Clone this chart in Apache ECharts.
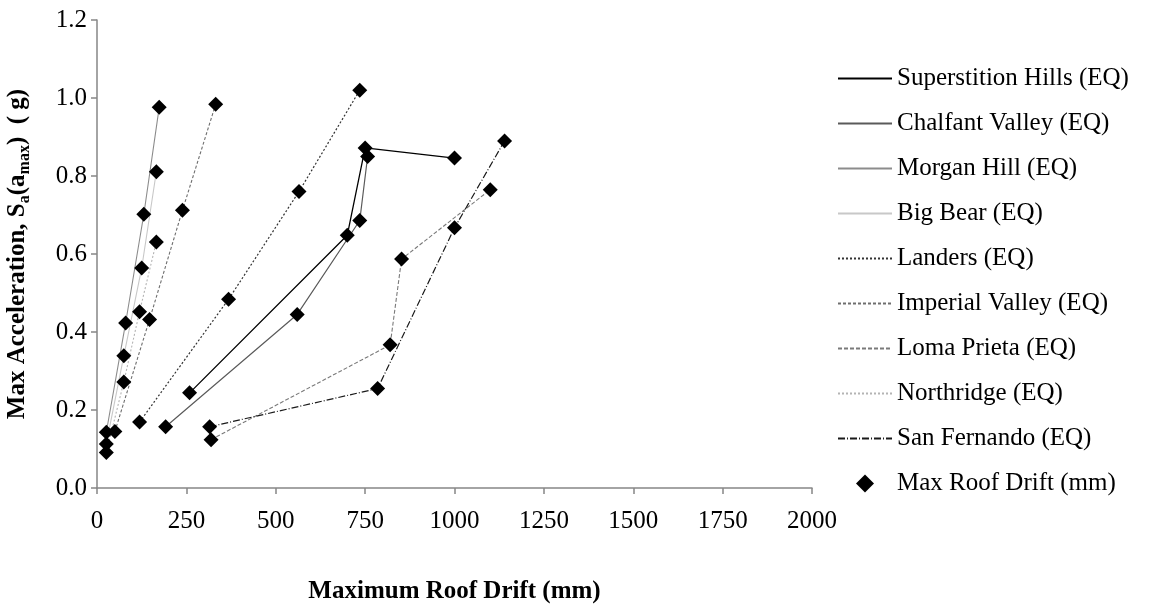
<!DOCTYPE html>
<html>
<head>
<meta charset="utf-8">
<script src="https://cdn.jsdelivr.net/npm/echarts@6/dist/echarts.min.js"></script>
<style>
  html, body { margin: 0; padding: 0; background: #ffffff; }
  #chart { width: 1149px; height: 607px; }
</style>
</head>
<body>
<div id="chart"></div>
<script>
// Maximum roof drift (mm) and peak spectral acceleration (g) per earthquake record
const superstitionDrift = [259, 700, 750, 1000];
const superstitionAcc   = [0.244, 0.648, 0.872, 0.846];
const chalfantDrift = [192, 560, 735, 757];
const chalfantAcc   = [0.157, 0.445, 0.686, 0.850];
const morganDrift = [26, 80, 131, 174];
const morganAcc   = [0.143, 0.423, 0.702, 0.976];
const bigBearDrift = [26, 75, 125, 166];
const bigBearAcc   = [0.113, 0.339, 0.564, 0.811];
const landersDrift = [119, 368, 565, 735];
const landersAcc   = [0.169, 0.484, 0.760, 1.020];
const imperialDrift = [50, 147, 239, 332];
const imperialAcc   = [0.145, 0.432, 0.712, 0.984];
const lomaDrift = [319, 820, 852, 1100];
const lomaAcc   = [0.124, 0.367, 0.587, 0.765];
const northridgeDrift = [26, 75, 119, 166];
const northridgeAcc   = [0.091, 0.272, 0.452, 0.631];
const sanFernandoDrift = [315, 785, 1000, 1140];
const sanFernandoAcc   = [0.157, 0.255, 0.667, 0.890];

const xTicks = [0, 250, 500, 750, 1000, 1250, 1500, 1750, 2000];
const yTicks = [0.0, 0.2, 0.4, 0.6, 0.8, 1.0, 1.2];

const records = [
  { name: 'Superstition Hills (EQ)', x: superstitionDrift, y: superstitionAcc, color: '#000000', type: 'solid', width: 1.3 },
  { name: 'Chalfant Valley (EQ)',    x: chalfantDrift,     y: chalfantAcc,     color: '#5a5a5a', type: 'solid', width: 1.2 },
  { name: 'Morgan Hill (EQ)',        x: morganDrift,       y: morganAcc,       color: '#8c8c8c', type: 'solid', width: 1.1 },
  { name: 'Big Bear (EQ)',           x: bigBearDrift,      y: bigBearAcc,      color: '#c8c8c8', type: 'solid', width: 1.1 },
  { name: 'Landers (EQ)',            x: landersDrift,      y: landersAcc,      color: '#333333', type: [2, 2], width: 1.2 },
  { name: 'Imperial Valley (EQ)',    x: imperialDrift,     y: imperialAcc,     color: '#6e6e6e', type: [3, 2], width: 1.1 },
  { name: 'Loma Prieta (EQ)',        x: lomaDrift,         y: lomaAcc,         color: '#7a7a7a', type: [4, 2], width: 1.1 },
  { name: 'Northridge (EQ)',         x: northridgeDrift,   y: northridgeAcc,   color: '#b4b4b4', type: [2, 2], width: 1.1 },
  { name: 'San Fernando (EQ)',       x: sanFernandoDrift,  y: sanFernandoAcc,  color: '#1a1a1a', type: [7, 2, 1, 2], width: 1.2 }
];

const pairs = (xs, ys) => xs.map((v, i) => [v, ys[i]]);

const FONT = "'Liberation Serif', 'Times New Roman', serif";
const FS = 25;

const series = records.map(r => ({
  name: r.name,
  type: 'line',
  data: pairs(r.x, r.y),
  symbol: 'none',
  showSymbol: false,
  color: r.color,
  lineStyle: { color: r.color, width: r.width, type: r.type },
  z: 2,
  silent: true,
  animation: false
}));

// Markers for every recorded maximum roof drift
const allPoints = [];
records.forEach(r => allPoints.push(...pairs(r.x, r.y)));
series.push({
  name: 'Max Roof Drift (mm)',
  type: 'scatter',
  data: allPoints,
  symbol: 'diamond',
  symbolSize: 15,
  itemStyle: { color: '#000000', opacity: 1 },
  z: 5,
  animation: false
});

const chart = echarts.init(document.getElementById('chart'), null, { renderer: 'canvas' });
chart.setOption({
  backgroundColor: '#ffffff',
  animation: false,
  textStyle: { fontFamily: FONT },
  grid: { left: 97, right: 337, top: 20, bottom: 119, containLabel: false, outerBoundsMode: 'none' },
  legend: {
    orient: 'vertical',
    left: 832,
    top: 61,
    itemWidth: 54,
    itemHeight: 18,
    itemGap: 20,
    symbolKeepAspect: true,
    textStyle: { fontFamily: FONT, fontSize: FS, lineHeight: 25, color: '#000000' },
    // line-only keys for the records, a plain diamond for the drift markers
    data: records.map(r => ({ name: r.name, itemStyle: { opacity: 0 } }))
      .concat([{ name: 'Max Roof Drift (mm)', icon: 'path://M0,-1L1,0L0,1L-1,0Z' }]),
    selectedMode: false
  },
  xAxis: {
    type: 'value',
    min: xTicks[0],
    max: xTicks[xTicks.length - 1],
    interval: 250,
    name: 'Maximum Roof Drift (mm)',
    nameLocation: 'middle',
    nameGap: 91,
    nameTextStyle: { fontFamily: FONT, fontSize: FS, fontWeight: 'bold', color: '#000000' },
    axisLine: { lineStyle: { color: '#868686', width: 1.5 } },
    axisTick: { show: true, length: 6, lineStyle: { color: '#868686', width: 1.5 } },
    axisLabel: { fontFamily: FONT, fontSize: FS, color: '#000000', margin: 21, formatter: v => String(v) },
    splitLine: { show: false }
  },
  yAxis: {
    type: 'value',
    min: yTicks[0],
    max: yTicks[yTicks.length - 1],
    interval: 0.2,
    name: '{b|Max Acceleration, S}{s|a}{b|(a}{s|max}{b|)  ( g)}',
    nameLocation: 'middle',
    nameGap: 64,
    nameTextStyle: {
      fontFamily: FONT,
      color: '#000000',
      rich: {
        b: { fontFamily: FONT, fontSize: FS, fontWeight: 'bold', color: '#000000', lineHeight: 30 },
        s: { fontFamily: FONT, fontSize: 16, fontWeight: 'bold', color: '#000000', lineHeight: 16, verticalAlign: 'bottom' }
      }
    },
    axisLine: { show: true, lineStyle: { color: '#868686', width: 1.5 } },
    axisTick: { show: true, length: 6, lineStyle: { color: '#868686', width: 1.5 } },
    axisLabel: { fontFamily: FONT, fontSize: FS, color: '#000000', margin: 10, formatter: v => v.toFixed(1) },
    splitLine: { show: false }
  },
  series: series
});
</script>
</body>
</html>
